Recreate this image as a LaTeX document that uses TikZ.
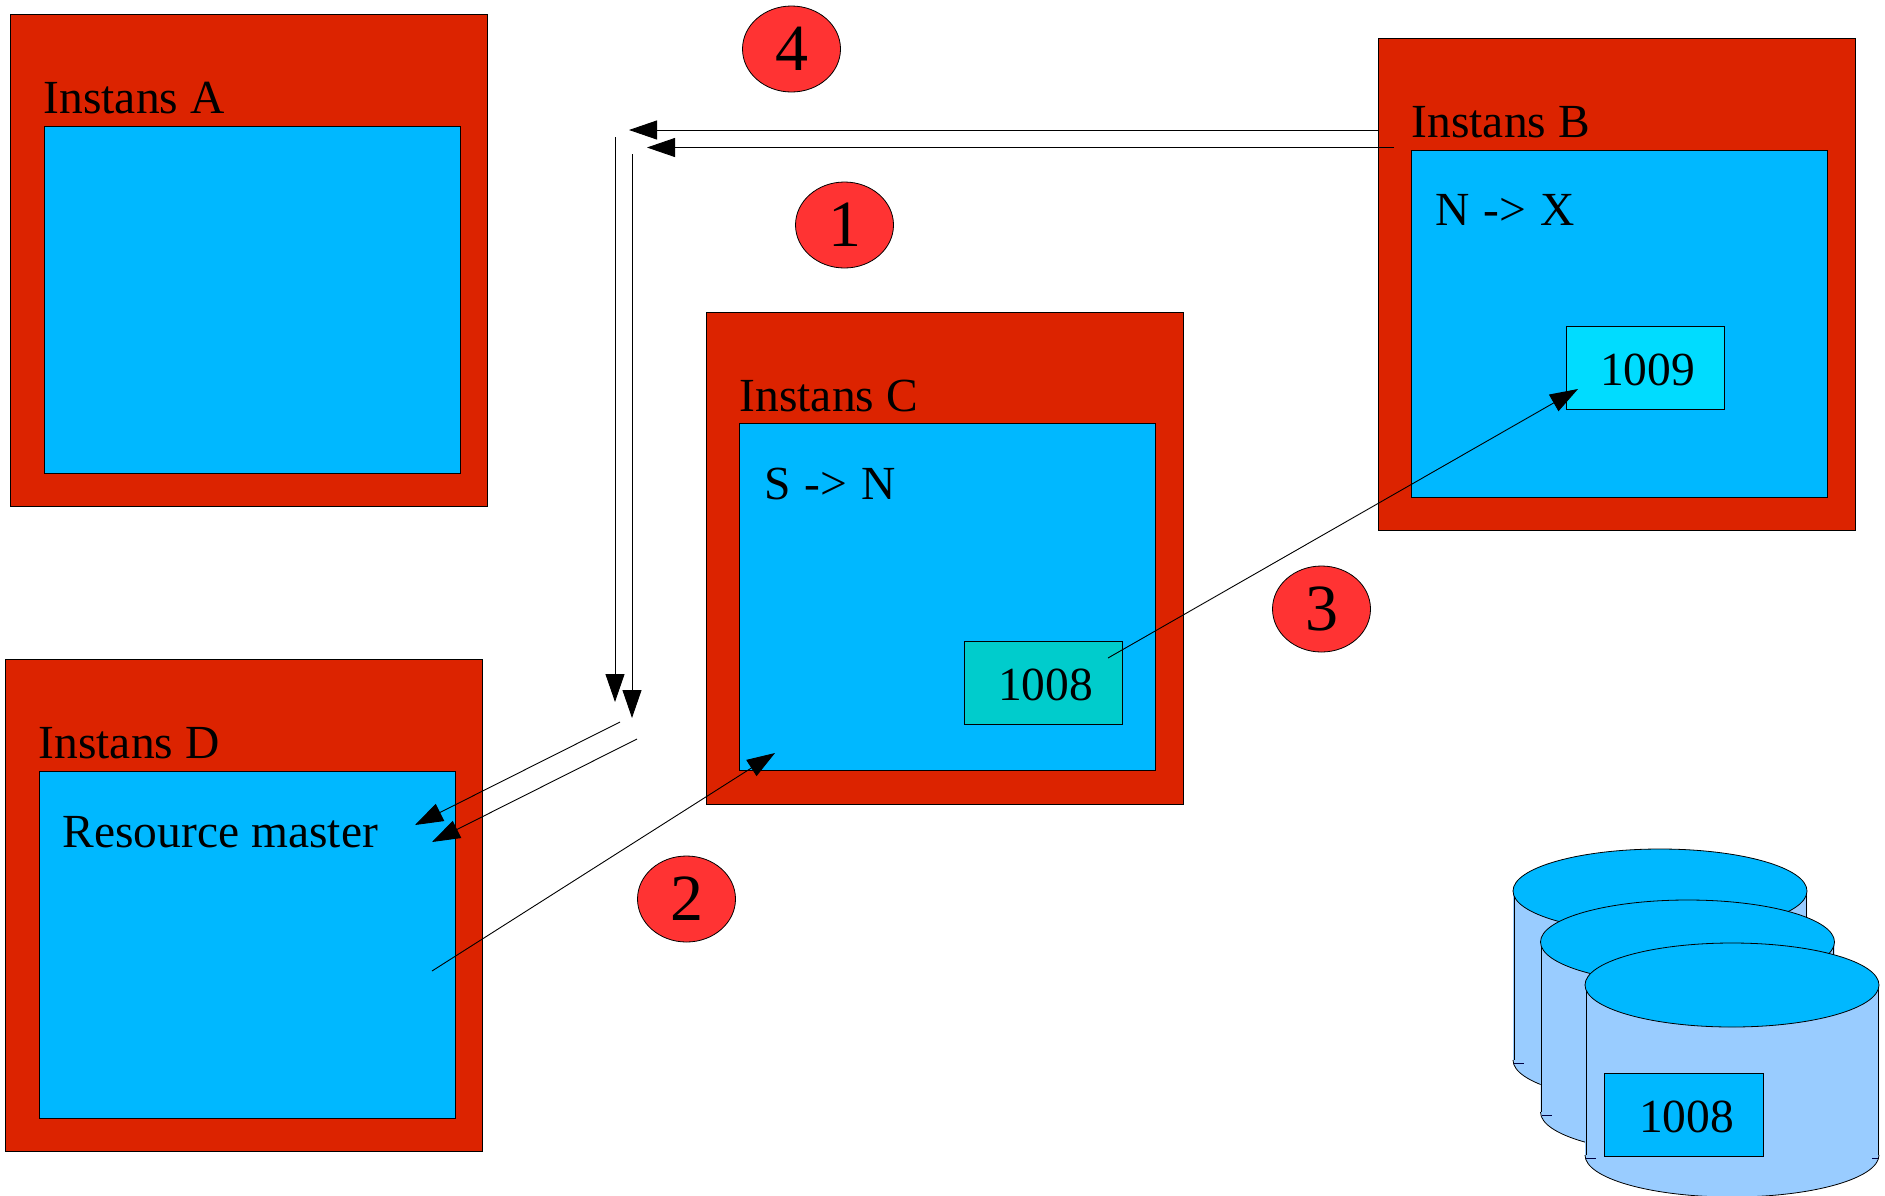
\documentclass[tikz,border=0pt]{standalone}
\usepackage{fontspec}
\setmainfont{Liberation Serif}
\usetikzlibrary{arrows.meta,shapes.geometric}
\definecolor{redbox}{HTML}{DC2300}
\definecolor{bluebox}{HTML}{00B8FF}
\definecolor{tealbox}{HTML}{00CCCC}
\definecolor{cyanbox}{HTML}{00DCFF}
\definecolor{badgered}{HTML}{FF3333}
\definecolor{cylside}{HTML}{99CCFF}
\tikzset{
  outline/.style={draw=black,line width=0.8pt},
  boxbase/.style={outline,rectangle,anchor=north west,inner sep=0pt,outer sep=0pt},
  instbox/.style={boxbase,fill=redbox,minimum width=477pt,minimum height=492pt},
  innerbox/.style={boxbase,fill=bluebox,minimum width=416pt,minimum height=347pt},
  smallbox/.style={boxbase,minimum width=158pt,minimum height=83pt},
  lbl/.style={anchor=base west,inner sep=0pt,font=\fontsize{47.5}{52}\selectfont},
  badge/.style={outline,ellipse,fill=badgered,minimum width=98pt,minimum height=86pt,inner sep=0pt,font=\fontsize{66}{72}\selectfont},
  conn/.style={draw=black,line width=0.9pt,-{Triangle[length=28pt,width=19pt]},shorten >=0pt},
  cyltop/.style={outline,fill=bluebox},
  tick/.style={draw=black!75!blue,line width=0.8pt}
}
\newcommand{\cylshape}[3]{% left x, top centre y, bottom centre y
  \fill[cylside] (#1,#2) -- (#1+294,#2) -- (#1+294,#3) arc[start angle=0,end angle=180,x radius=147,y radius=42] -- cycle;
  \draw[outline] (#1+1,#2) -- (#1+1,#3) (#1+293,#2) -- (#1+293,#3);
  \draw[outline] (#1+294,#3) arc[start angle=0,end angle=180,x radius=147,y radius=42];
  \draw[tick] (#1+1,#3+3) -- (#1+11,#3+3);
  \draw[tick] (#1+287,#3+3) -- (#1+293,#3+3);
  \draw[cyltop] (#1+147,#2) ellipse[x radius=147,y radius=42];
}
\begin{document}
\begin{tikzpicture}[x=1pt,y=-1pt]
\useasboundingbox (0,0) rectangle (1885,1195);
\clip (0,0) rectangle (1885,1195);

% Instance boxes
\node[instbox] (redA) at (10,14) {};
\node[innerbox] (blueA) at (44,126) {};
\node[instbox] (redB) at (1378.5,38) {};
\node[innerbox] (blueB) at (1411.5,150) {};
\node[instbox] (redC) at (706,312) {};
\node[innerbox] (blueC) at (739.5,423.5) {};
\node[instbox] (redD) at (5.5,659) {};
\node[innerbox] (blueD) at (39,771) {};

\node[smallbox,fill=cyanbox] (b1009) at (1566,326) {};
\node[smallbox,fill=tealbox] (b1008) at (964,641) {};

% Labels
\node[lbl] (tA) at (43.5,113) {Instans A};
\node[lbl] (tB) at (1411.5,137) {Instans B};
\node[lbl] (tC) at (739.5,411) {Instans C};
\node[lbl] (tD) at (38.5,758) {Instans D};
\node[lbl] (tNX) at (1435.5,225.5) {N\hspace{2pt} -{}>\hspace{2pt} X};
\node[lbl] (tSN) at (764.5,499) {S\hspace{2pt} -{}>\hspace{2pt} N};
\node[lbl] (tRM) at (62.5,847) {Resource master};
\node[lbl] (t1009) at (1600,385) {1009};
\node[lbl] (t1008) at (998,700.5) {1008};

% Badges
\node[badge] (n4) at (791.5,49) {4};
\node[badge] (n1) at (844.5,225) {1};
\node[badge] (n2) at (686.5,899) {2};
\node[badge] (n3) at (1321.5,609) {3};

% Cylinders
\cylshape{1513}{891}{1060}
\cylshape{1540.5}{942}{1112}
\cylshape{1585}{985}{1155}
\node[smallbox,fill=bluebox,minimum width=159pt] (b1008d) at (1604,1073) {};
\node[lbl] (t1008d) at (1639,1132.5) {1008};

% Connector ends
\coordinate (hAs) at (1378,130);
\coordinate (hAe) at (629,130);
\coordinate (hBs) at (1394,147.5);
\coordinate (hBe) at (647,147.5);
\coordinate (vAs) at (615,137);
\coordinate (vAe) at (615,702);
\coordinate (vBs) at (632,154);
\coordinate (vBe) at (632,718);
\coordinate (dAs) at (620,722);
\coordinate (dAe) at (415,825);
\coordinate (dBs) at (637,739);
\coordinate (dBe) at (432,842);
\coordinate (dCs) at (432,971);
\coordinate (dCe) at (775,753);
\coordinate (dDs) at (1108,658);
\coordinate (dDe) at (1578,389);

\draw[conn] (hAs) -- (hAe);
\draw[conn] (hBs) -- (hBe);
\draw[conn] (vAs) -- (vAe);
\draw[conn] (vBs) -- (vBe);
\draw[conn] (dAs) -- (dAe);
\draw[conn] (dBs) -- (dBe);
\draw[conn] (dCs) -- (dCe);
\draw[conn] (dDs) -- (dDe);
\end{tikzpicture}
\end{document}
